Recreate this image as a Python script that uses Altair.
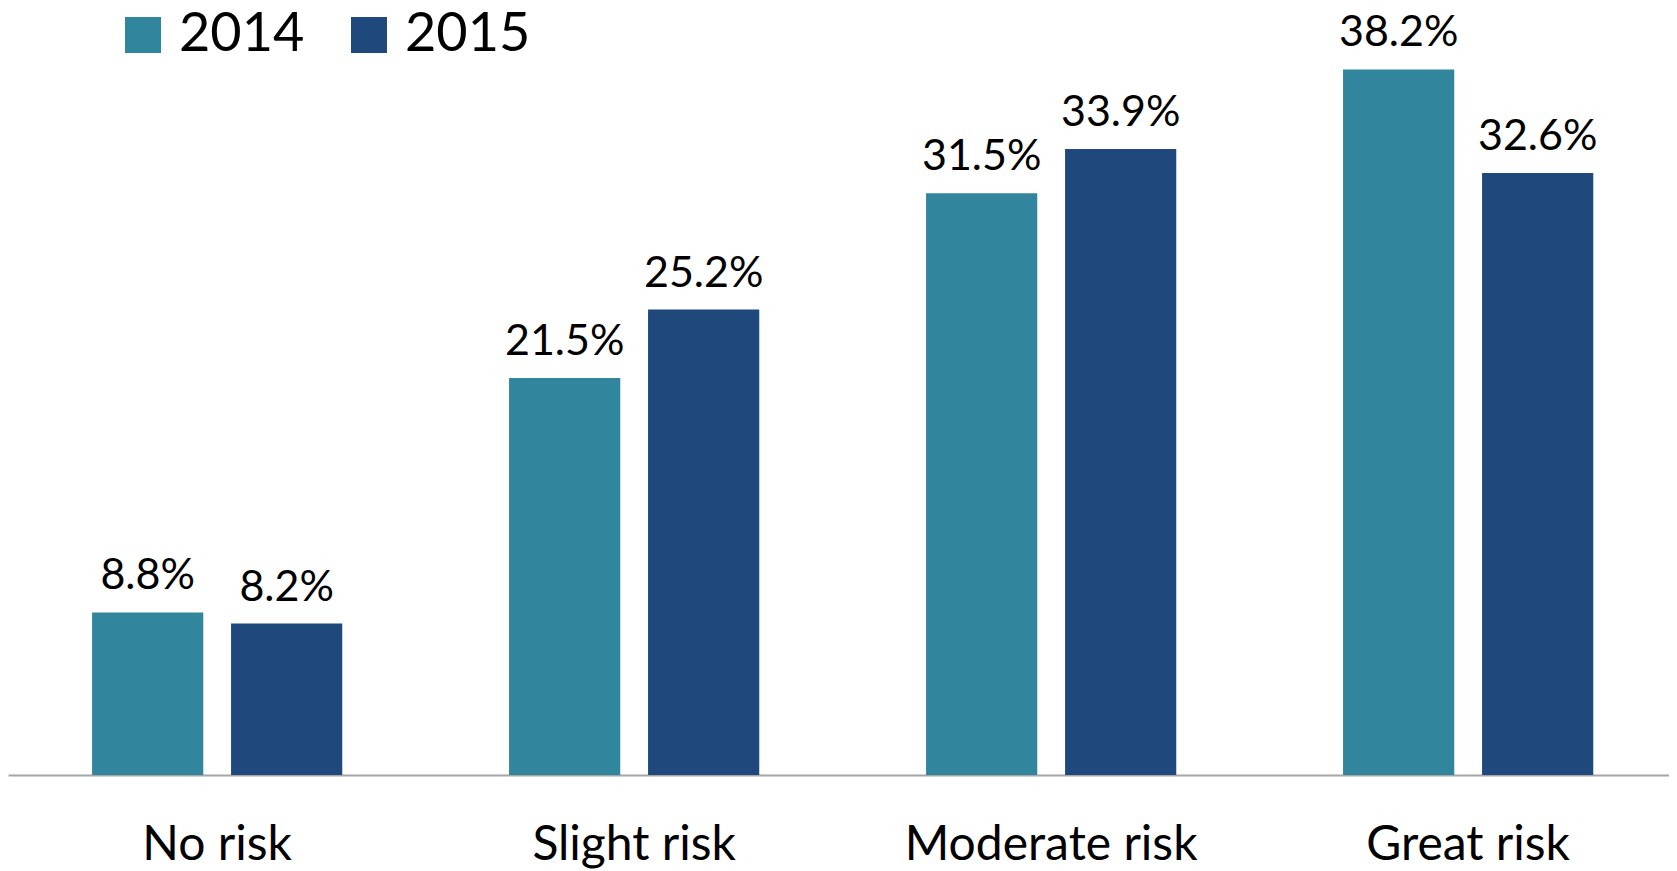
import altair as alt
import pandas as pd

categories = ["No risk", "Slight risk", "Moderate risk", "Great risk"]
years = ["2014", "2015"]
values_2014 = [8.8, 21.5, 31.5, 38.2]
values_2015 = [8.2, 25.2, 33.9, 32.6]
colors = ["#31859C", "#1F497D"]

rows = []
for c, v in zip(categories, values_2014):
    rows.append({"category": c, "year": "2014", "value": v})
for c, v in zip(categories, values_2015):
    rows.append({"category": c, "year": "2015", "value": v})
df = pd.DataFrame(rows)

FONT = "Lato"

base = alt.Chart(df).encode(
    x=alt.X(
        "category:N",
        sort=categories,
        title=None,
        scale=alt.Scale(paddingInner=0.4, paddingOuter=0.1916, align=0.526),
        axis=alt.Axis(
            labelAngle=0,
            ticks=False,
            labelPadding=46,
            labelFontSize=48,
            labelFont=FONT,
            labelColor="#000000",
            domainColor="#A6A6A6",
            domainWidth=2,
            labelLimit=400,
        ),
    ),
    xOffset=alt.XOffset(
        "year:N", sort=years, scale=alt.Scale(paddingInner=0.2, paddingOuter=0)
    ),
    y=alt.Y(
        "value:Q",
        scale=alt.Scale(domain=[0, 41.42], nice=False, zero=True),
        axis=None,
    ),
)

bars = base.mark_bar().encode(
    color=alt.Color(
        "year:N",
        sort=years,
        scale=alt.Scale(domain=years, range=colors),
        legend=alt.Legend(
            title=None,
            orient="none",
            legendX=108,
            legendY=-2,
            direction="horizontal",
            symbolType="square",
            symbolSize=1296,
            symbolStrokeWidth=0,
            symbolOpacity=1,
            labelFontSize=54,
            labelFont=FONT,
            labelColor="#000000",
            labelOffset=9,
            columnPadding=37,
            labelLimit=400,
            padding=0,
        ),
    )
)

labels = base.mark_text(
    font=FONT, fontSize=43, color="#000000", baseline="alphabetic", dy=-23
).transform_calculate(
    label="format(datum.value, '.1f') + '%'"
).encode(text="label:N")

chart = (
    alt.layer(bars, labels)
    .properties(width=1661, height=765, padding=0)
    .configure_view(stroke=None)
)

chart.save("out.html", embed_options={"renderer": "svg", "actions": False})
